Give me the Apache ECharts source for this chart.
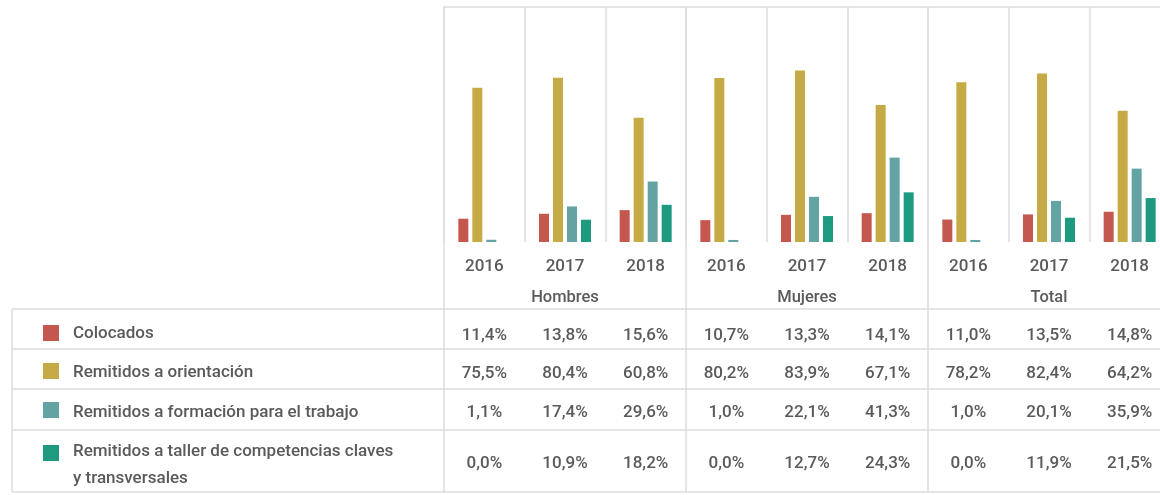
<!DOCTYPE html>
<html>
<head>
<meta charset="utf-8">
<script src="https://cdn.jsdelivr.net/npm/echarts@6/dist/echarts.min.js"></script>
<style>
  html, body { margin: 0; padding: 0; background: #ffffff; overflow: hidden; }
  #chart { width: 1170px; height: 495px; }
</style>
</head>
<body>
<div id="chart"></div>
<script>
// Categories
const years = ['2016', '2017', '2018', '2016', '2017', '2018', '2016', '2017', '2018'];
const groups = ['Hombres', 'Mujeres', 'Total'];

// Series (percentages)
const seriesNames = [
  'Colocados',
  'Remitidos a orientación',
  'Remitidos a formación para el trabajo',
  'Remitidos a taller de competencias claves y transversales'
];
const rowLabels = [
  'Colocados',
  'Remitidos a orientación',
  'Remitidos a formación para el trabajo',
  'Remitidos a taller de competencias claves\ny transversales'
];
const colocados   = [11.4, 13.8, 15.6, 10.7, 13.3, 14.1, 11.0, 13.5, 14.8];
const orientacion = [75.5, 80.4, 60.8, 80.2, 83.9, 67.1, 78.2, 82.4, 64.2];
const formacion   = [1.1, 17.4, 29.6, 1.0, 22.1, 41.3, 1.0, 20.1, 35.9];
const taller      = [0.0, 10.9, 18.2, 0.0, 12.7, 24.3, 0.0, 11.9, 21.5];
const colors = ['#C4584E', '#C6AA45', '#64A3A4', '#1D9A80'];

const allSeries = [colocados, orientacion, formacion, taller];

// Layout
const FONT = 'Roboto, "Noto Sans", sans-serif';
const WEIGHT = 500;
const TXT = '#5a5a5a';
const RULE = '#dddddd';
const PLOT_LEFT = 444, PLOT_TOP = 7, PLOT_W = 726, BASE = 242;
const TABLE_LEFT = 12, TABLE_RIGHT = 1170;
const ROW_LINES = [309, 349, 389, 430, 492];
const ROW_CENTERS = [336, 374, 413, 464];
const SWATCH_TOPS = [325, 363, 402, 445];
const LABEL_CENTERS = [334, 373, 413, 465.5];

const fmt = v => v.toFixed(1).replace('.', ',') + '%';

const chart = echarts.init(document.getElementById('chart'), null, { renderer: 'canvas' });

const hiddenLine = { show: false };
const labelStyle = (size, margin) => ({
  interval: 0, margin: margin, verticalAlign: 'middle',
  fontSize: size, fontWeight: WEIGHT, color: TXT, fontFamily: FONT
});

const xAxes = [
  // year labels + column separators
  {
    gridIndex: 0, type: 'category', data: years, position: 'bottom',
    axisLine: hiddenLine, axisTick: hiddenLine,
    axisLabel: labelStyle(17, 25),
    splitLine: { show: true, interval: 0, lineStyle: { color: RULE, width: 1.5 } }
  },
  // group labels
  {
    gridIndex: 0, type: 'category', data: groups, position: 'bottom',
    axisLine: hiddenLine, axisTick: hiddenLine,
    axisLabel: labelStyle(16.5, 56),
    splitLine: hiddenLine
  }
];

// value rows of the table
allSeries.forEach((vals, i) => {
  xAxes.push({
    gridIndex: 0, type: 'category', data: vals.map(fmt), position: 'bottom',
    axisLine: hiddenLine, axisTick: hiddenLine,
    axisLabel: labelStyle(17, ROW_CENTERS[i] - BASE),
    splitLine: hiddenLine
  });
});

// top frame line
xAxes.push({
  gridIndex: 0, type: 'category', data: years, position: 'top',
  axisLine: { show: true, lineStyle: { color: RULE, width: 1.5 } },
  axisTick: hiddenLine, axisLabel: hiddenLine, splitLine: hiddenLine
});

// full-height group separators
xAxes.push({
  gridIndex: 1, type: 'category', data: groups, position: 'bottom',
  axisLine: hiddenLine, axisTick: hiddenLine, axisLabel: hiddenLine,
  splitLine: { show: true, interval: 0, lineStyle: { color: RULE, width: 1.5 } }
});

const graphics = [];
// table rules
ROW_LINES.forEach(y => {
  graphics.push({
    type: 'line', silent: true,
    shape: { x1: TABLE_LEFT, y1: y, x2: TABLE_RIGHT, y2: y },
    style: { stroke: RULE, lineWidth: 1.5 }
  });
});
graphics.push({
  type: 'line', silent: true,
  shape: { x1: TABLE_LEFT, y1: ROW_LINES[0], x2: TABLE_LEFT, y2: ROW_LINES[ROW_LINES.length - 1] },
  style: { stroke: RULE, lineWidth: 1.5 }
});
// legend swatches and row titles
rowLabels.forEach((label, i) => {
  graphics.push({
    type: 'rect', silent: true,
    shape: { x: 43, y: SWATCH_TOPS[i], width: 16, height: 16 },
    style: { fill: colors[i] }
  });
  graphics.push({
    type: 'text', silent: true,
    x: 73, y: LABEL_CENTERS[i],
    style: {
      text: label, fill: TXT, font: WEIGHT + ' 17px ' + FONT,
      verticalAlign: 'middle', lineHeight: 27
    }
  });
});

const option = {
  animation: false,
  backgroundColor: '#ffffff',
  textStyle: { fontFamily: FONT },
  grid: [
    { left: PLOT_LEFT, top: PLOT_TOP, width: PLOT_W, height: BASE - PLOT_TOP, containLabel: false },
    { left: PLOT_LEFT, top: PLOT_TOP, width: PLOT_W, height: ROW_LINES[ROW_LINES.length - 1] - PLOT_TOP, containLabel: false }
  ],
  xAxis: xAxes,
  yAxis: [
    { gridIndex: 0, type: 'value', min: 0, max: 115, show: false },
    { gridIndex: 1, type: 'value', min: 0, max: 1, show: false }
  ],
  series: allSeries.map((vals, i) => ({
    name: seriesNames[i],
    type: 'bar',
    xAxisIndex: 0,
    yAxisIndex: 0,
    data: vals,
    barWidth: 10,
    barGap: '40%',
    itemStyle: { color: colors[i] },
    emphasis: { disabled: true }
  })),
  graphic: graphics
};

chart.setOption(option);
</script>
</body>
</html>
